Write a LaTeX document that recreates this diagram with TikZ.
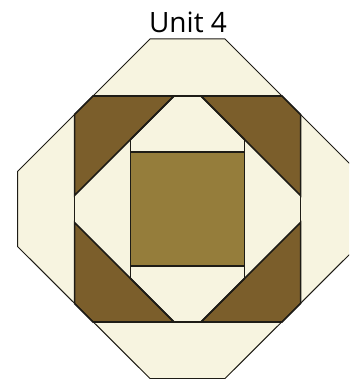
\documentclass[tikz,border=0pt]{standalone}
\usepackage{fontspec}
\setmainfont{Open Sans}
\definecolor{light}{RGB}{247,244,224}
\definecolor{darkb}{RGB}{123,94,43}
\definecolor{mid}{RGB}{149,125,59}
\definecolor{edge}{RGB}{30,28,22}
\begin{document}
\begin{tikzpicture}[x=1pt,y=-1pt,
  piece/.style={draw=edge,line width=1.5pt,line join=miter},
  outer/.style={draw=edge,line width=1pt}]
\useasboundingbox (0,0) rectangle (349,379);
\clip (0,0) rectangle (349,379);
\node[font=\fontsize{28}{30}\selectfont,anchor=base,inner sep=0pt] (title) at (188,33) {Unit 4};
\begin{scope}[shift={(187.5,209)}]
% octagon background
\fill[light] (-37.5,-170) -- (37.5,-170) -- (170,-37.5) -- (170,37.5) -- (37.5,170) -- (-37.5,170) -- (-170,37.5) -- (-170,-37.5) -- cycle;
% dark triangles (corners cut)
\foreach \sx/\sy in {1/1,-1/1,1/-1,-1/-1}{
  \filldraw[fill=darkb,piece] (\sx*94.5,\sy*113) -- (\sx*13.5,\sy*113) -- (\sx*113,\sy*13.5) -- (\sx*113,\sy*94.5) -- cycle;
}
% inner square
\filldraw[fill=mid,piece] (-57,-57) rectangle (57,57);
% frame lines
\draw[piece] (-94.5,-113) -- (94.5,-113);
\draw[piece] (-94.5,113) -- (94.5,113);
\draw[piece] (-113,-94.5) -- (-113,94.5);
\draw[piece] (113,-94.5) -- (113,94.5);
% inner vertical lines
\draw[piece] (-57,-69.5) -- (-57,69.5);
\draw[piece] (57,-69.5) -- (57,69.5);
\draw[piece] (-13.5,-113) -- (-57,-69.5);
\draw[piece] (13.5,-113) -- (57,-69.5);
\draw[piece] (-13.5,113) -- (-57,69.5);
\draw[piece] (13.5,113) -- (57,69.5);
% octagon outline
\draw[outer] (-37.5,-170) -- (37.5,-170) -- (170,-37.5) -- (170,37.5) -- (37.5,169.5) -- (-37.5,169.5) -- (-170,37.5) -- (-170,-37.5) -- cycle;
\end{scope}
\end{tikzpicture}
\end{document}
